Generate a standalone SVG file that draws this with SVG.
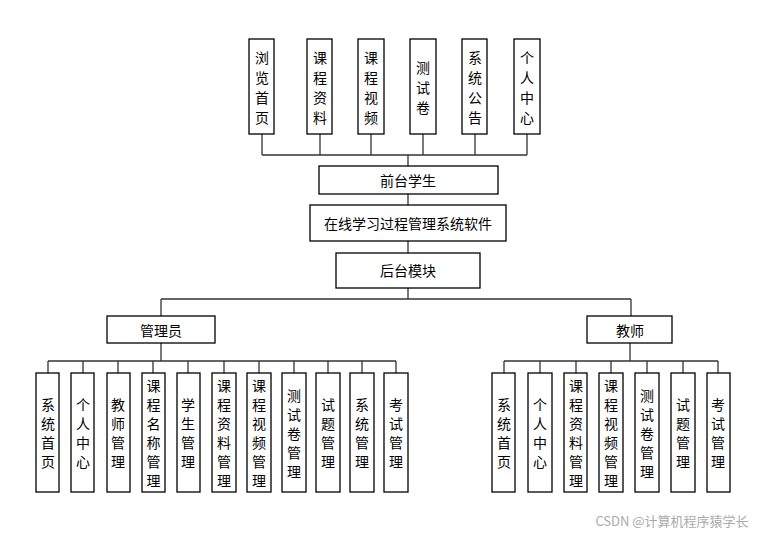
<svg xmlns="http://www.w3.org/2000/svg" width="765" height="534" viewBox="0 0 765 534">
<style>
rect{fill:#fff;stroke:#000;stroke-width:1.3}
text{font-family:"Noto Sans CJK SC",sans-serif;font-size:14px;fill:#000;text-anchor:middle;dominant-baseline:central}
#connectors path{fill:none;stroke:#333;stroke-width:1.3}
</style>
<rect x="0" y="0" width="765" height="534" style="stroke:none"/>
<g id="connectors">
<path d="M262 134V155M320 134V155M371 134V155M423 134V155M475 134V155M527 134V155M262 155H527M408 155V166M408 194V205M408 241V253M408 288V299M161 299H631M161 299V316M631 299V316"/>
<path d="M161 343V361M48 361H396M48 361V373M83 361V373M118 361V373M153 361V373M188 361V373M224 361V373M259 361V373M294 361V373M328 361V373M362 361V373M396 361V373"/>
<path d="M630 343V361M504 361H718M504 361V373M540 361V373M576 361V373M611 361V373M647 361V373M683 361V373M718 361V373"/>
</g>
<g id="top">
<g id="t1"><rect x="249" y="39" width="25" height="95"/><text x="262" y="57">浏</text><text x="262" y="77">览</text><text x="262" y="97">首</text><text x="262" y="117">页</text></g>
<g id="t2"><rect x="307" y="39" width="25" height="95"/><text x="320" y="57">课</text><text x="320" y="77">程</text><text x="320" y="97">资</text><text x="320" y="117">料</text></g>
<g id="t3"><rect x="358" y="39" width="26" height="95"/><text x="371" y="57">课</text><text x="371" y="77">程</text><text x="371" y="97">视</text><text x="371" y="117">频</text></g>
<g id="t4"><rect x="410" y="39" width="26" height="95"/><text x="423" y="67">测</text><text x="423" y="87">试</text><text x="423" y="107">卷</text></g>
<g id="t5"><rect x="462" y="39" width="25" height="95"/><text x="475" y="57">系</text><text x="475" y="77">统</text><text x="475" y="97">公</text><text x="475" y="117">告</text></g>
<g id="t6"><rect x="514" y="39" width="26" height="95"/><text x="527" y="57">个</text><text x="527" y="77">人</text><text x="527" y="97">中</text><text x="527" y="117">心</text></g>
</g>
<g id="front"><rect x="319" y="166" width="179" height="28"/><text x="408" y="180">前台学生</text></g>
<g id="system"><rect x="310" y="205" width="196" height="36"/><text x="408" y="223">在线学习过程管理系统软件</text></g>
<g id="back"><rect x="336" y="253" width="144" height="35"/><text x="408" y="270">后台模块</text></g>
<g id="admin"><rect x="107" y="316" width="108" height="27"/><text x="161" y="329.500">管理员</text></g>
<g id="teacher"><rect x="587" y="316" width="85" height="27"/><text x="630" y="329.500">教师</text></g>
<g id="admin-children">
<g id="a1"><rect x="36" y="373" width="23" height="119"/><text x="48" y="404">系</text><text x="48" y="423">统</text><text x="48" y="442">首</text><text x="48" y="461">页</text></g>
<g id="a2"><rect x="71" y="373" width="23" height="119"/><text x="83" y="404">个</text><text x="83" y="423">人</text><text x="83" y="442">中</text><text x="83" y="461">心</text></g>
<g id="a3"><rect x="107" y="373" width="23" height="119"/><text x="118" y="404">教</text><text x="118" y="423">师</text><text x="118" y="442">管</text><text x="118" y="461">理</text></g>
<g id="a4"><rect x="142" y="373" width="23" height="119"/><text x="153.500" y="385">课</text><text x="153.500" y="404">程</text><text x="153.500" y="423">名</text><text x="153.500" y="442">称</text><text x="153.500" y="461">管</text><text x="153.500" y="480">理</text></g>
<g id="a5"><rect x="177" y="373" width="23" height="119"/><text x="188" y="404">学</text><text x="188" y="423">生</text><text x="188" y="442">管</text><text x="188" y="461">理</text></g>
<g id="a6"><rect x="212" y="373" width="24" height="119"/><text x="224" y="385">课</text><text x="224" y="404">程</text><text x="224" y="423">资</text><text x="224" y="442">料</text><text x="224" y="461">管</text><text x="224" y="480">理</text></g>
<g id="a7"><rect x="247" y="373" width="24" height="119"/><text x="259" y="385">课</text><text x="259" y="404">程</text><text x="259" y="423">视</text><text x="259" y="442">频</text><text x="259" y="461">管</text><text x="259" y="480">理</text></g>
<g id="a8"><rect x="282" y="373" width="24" height="119"/><text x="294" y="395">测</text><text x="294" y="414">试</text><text x="294" y="433">卷</text><text x="294" y="452">管</text><text x="294" y="471">理</text></g>
<g id="a9"><rect x="316" y="373" width="24" height="119"/><text x="328" y="404">试</text><text x="328" y="423">题</text><text x="328" y="442">管</text><text x="328" y="461">理</text></g>
<g id="a10"><rect x="350" y="373" width="24" height="119"/><text x="362" y="404">系</text><text x="362" y="423">统</text><text x="362" y="442">管</text><text x="362" y="461">理</text></g>
<g id="a11"><rect x="384" y="373" width="24" height="119"/><text x="396" y="404">考</text><text x="396" y="423">试</text><text x="396" y="442">管</text><text x="396" y="461">理</text></g>
</g>
<g id="teacher-children">
<g id="b1"><rect x="492" y="373" width="23" height="119"/><text x="504" y="404">系</text><text x="504" y="423">统</text><text x="504" y="442">首</text><text x="504" y="461">页</text></g>
<g id="b2"><rect x="528" y="373" width="24" height="119"/><text x="540" y="404">个</text><text x="540" y="423">人</text><text x="540" y="442">中</text><text x="540" y="461">心</text></g>
<g id="b3"><rect x="564" y="373" width="23" height="119"/><text x="576" y="385">课</text><text x="576" y="404">程</text><text x="576" y="423">资</text><text x="576" y="442">料</text><text x="576" y="461">管</text><text x="576" y="480">理</text></g>
<g id="b4"><rect x="599" y="373" width="24" height="119"/><text x="611" y="385">课</text><text x="611" y="404">程</text><text x="611" y="423">视</text><text x="611" y="442">频</text><text x="611" y="461">管</text><text x="611" y="480">理</text></g>
<g id="b5"><rect x="635" y="373" width="24" height="119"/><text x="647" y="395">测</text><text x="647" y="414">试</text><text x="647" y="433">卷</text><text x="647" y="452">管</text><text x="647" y="471">理</text></g>
<g id="b6"><rect x="671" y="373" width="24" height="119"/><text x="683" y="404">试</text><text x="683" y="423">题</text><text x="683" y="442">管</text><text x="683" y="461">理</text></g>
<g id="b7"><rect x="707" y="373" width="23" height="119"/><text x="718" y="404">考</text><text x="718" y="423">试</text><text x="718" y="442">管</text><text x="718" y="461">理</text></g>
</g>
<text x="672" y="520" style="font-size:13px;fill:#aaa">CSDN @计算机程序猿学长</text>
</svg>
